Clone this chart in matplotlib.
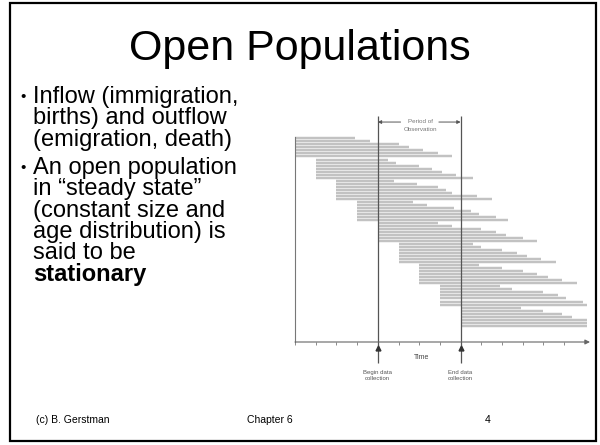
import matplotlib
matplotlib.use("Agg")
import matplotlib.pyplot as plt
from matplotlib.patches import Rectangle

plt.rcParams['font.family'] = ['Liberation Sans', 'DejaVu Sans']

# cohorts enter at these times (time units), members leave at the exit times
cohort_start = [0, 1, 2, 3, 4, 5, 6, 7, 8]
exit_times = [
    [2.9, 3.6, 5.0, 5.5, 6.2, 6.9, 7.6],
    [4.5, 4.9, 6.0, 6.6, 7.1, 7.8, 8.6],
    [4.8, 5.9, 6.9, 7.3, 7.6, 8.8, 9.5],
    [5.7, 6.4, 7.7, 8.5, 8.9, 9.7, 10.3],
    [6.9, 7.6, 9.0, 9.7, 10.2, 11.0, 11.7],
    [8.6, 9.0, 10.0, 10.7, 11.2, 11.9, 12.6],
    [8.9, 10.0, 11.0, 11.7, 12.2, 12.9, 13.6],
    [9.9, 10.5, 12.0, 12.7, 13.1, 13.9, 14.1],
    [10.9, 12.0, 12.9, 13.4, 14.1, 14.1, 14.1],
]
time_ticks = list(range(14))
begin_t = 4
end_t = 8

title = "Open Populations"
bullets = [
    ["Inflow (immigration,", "births) and outflow", "(emigration, death)"],
    ["An open population", "in \u201csteady state\u201d", "(constant size and",
     "age distribution) is", "said to be", "stationary"],
]
footer = ["(c) B. Gerstman", "Chapter 6", "4"]

fig = plt.figure(figsize=(6, 4.45), dpi=100)

# slide layer in pixel units
deco = fig.add_axes([0, 0, 1, 1])
deco.set_xlim(0, 600)
deco.set_ylim(445, 0)
deco.axis('off')
deco.add_patch(Rectangle((10, 3), 586, 438, fill=False, ec='black', lw=1.6))
deco.text(300, 49, title, ha='center', va='center', fontsize=31)

y = 97
for i, block in enumerate(bullets):
    deco.text(20, y, "\u2022", ha='left', va='center', fontsize=11)
    for k, line in enumerate(block):
        bold = (i == 1 and k == len(block) - 1)
        deco.text(33, y, line, ha='left', va='center', fontsize=17,
                  fontweight='bold' if bold else 'normal')
        y += 21.4
    y += 6.5

deco.text(36, 420, footer[0], ha='left', va='center', fontsize=7.5)
deco.text(270, 420, footer[1], ha='center', va='center', fontsize=7.5)
deco.text(488, 420, footer[2], ha='center', va='center', fontsize=7.5)

# chart
ax = fig.add_axes([295 / 600, 1 - 342 / 445, 295 / 600, 226 / 445])
ax.set_xlim(0, 14.25)
ax.set_ylim(67.4, -7.4)
ax.patch.set_alpha(0)

n_per = len(exit_times[0])
for g, (s, ends) in enumerate(zip(cohort_start, exit_times)):
    rows = [g * n_per + j for j in range(len(ends))]
    ax.hlines(rows, s, ends, color='#c2c2c2', lw=1.75)

for side in ['top', 'right', 'bottom']:
    ax.spines[side].set_visible(False)
ax.spines['left'].set_color('#777777')
ax.spines['left'].set_linewidth(0.8)
ax.spines['left'].set_bounds(67.4, -0.5)

ax.set_xticks(time_ticks)
ax.set_yticks([])
ax.tick_params(axis='x', direction='out', length=2.5, width=0.6, color='#777777',
               labelbottom=False)
ax.annotate("", xy=(1.0, 0), xytext=(0, 0), xycoords='axes fraction',
            arrowprops=dict(arrowstyle='-|>', color='#666666', lw=0.8,
                            mutation_scale=7, shrinkA=0, shrinkB=0))

# begin / end of observation
ax.vlines([begin_t, end_t], -7.4, 74.4, color='#555555', lw=0.9, clip_on=False)
ax.plot([begin_t, end_t], [69.4, 69.4], ls='none', marker='^', ms=3.5,
        color='#333333', clip_on=False)

arrow_kw = dict(arrowstyle='-|>', color='#555555', lw=0.7, mutation_scale=5,
                shrinkA=0, shrinkB=0)
ax.annotate("", xy=(begin_t, -5.4), xytext=(5.1, -5.4), arrowprops=arrow_kw,
            annotation_clip=False)
ax.annotate("", xy=(end_t, -5.4), xytext=(6.95, -5.4), arrowprops=arrow_kw,
            annotation_clip=False)
ax.text(6.05, -5.5, "Period of", ha='center', va='center', fontsize=4.5,
        color='#777777', clip_on=False)
ax.text(6.05, -2.9, "Observation", ha='center', va='center', fontsize=4.5,
        color='#777777', clip_on=False)

ax.text(6.1, 72.4, "Time", ha='center', va='center', fontsize=5,
        color='#444444', clip_on=False)
ax.text(begin_t, 78.4, "Begin data\ncollection", ha='center', va='center',
        fontsize=4.3, color='#555555', linespacing=1.3, clip_on=False)
ax.text(end_t, 78.4, "End data\ncollection", ha='center', va='center',
        fontsize=4.3, color='#555555', linespacing=1.3, clip_on=False)

fig.savefig("out.png", dpi=100)
